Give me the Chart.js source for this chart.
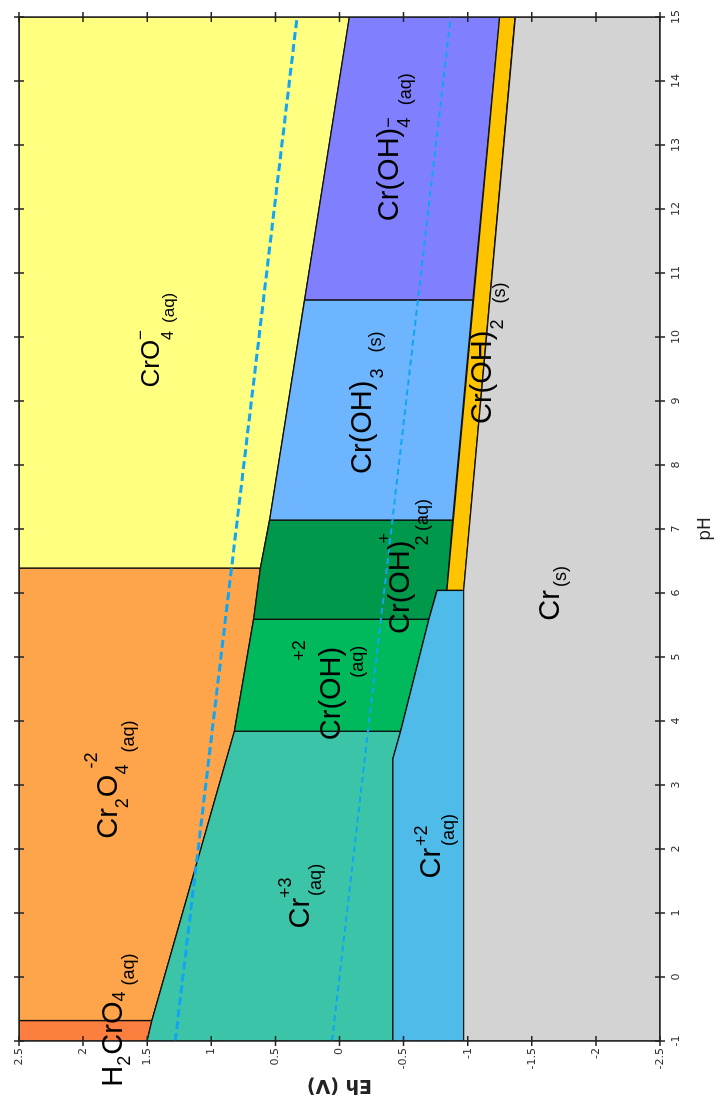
<!DOCTYPE html>
<html lang="es">
<head>
<meta charset="UTF-8">
<title>Diagrama de Pourbaix del cromo</title>
<script src="https://cdn.jsdelivr.net/npm/chart.js@4.4.1/dist/chart.umd.min.js"></script>
<style>
  html, body { margin: 0; padding: 0; background: #fff; overflow: hidden; }
  body { width: 716px; height: 1100px; position: relative; }
  /* La gráfica se dibuja horizontal y luego se gira 90° a la izquierda */
  #contenedor {
    position: absolute; left: 0; top: 0;
    width: 1100px; height: 716px;
    transform-origin: 0 0;
    transform: translateY(1100px) rotate(-90deg);
  }
</style>
</head>
<body>
<div id="contenedor"><canvas id="graficaPourbaix" width="1100" height="716"></canvas></div>
<script>
// 📐 Marcas de los ejes: pH (horizontal) y Eh en voltios (vertical)
const TICKS_PH = [-1, 0, 1, 2, 3, 4, 5, 6, 7, 8, 9, 10, 11, 12, 13, 14, 15];
const TICKS_EH = [-2.5, -2, -1.5, -1, -0.5, 0, 0.5, 1, 1.5, 2, 2.5];

// 🧪 Zonas de estabilidad, vértices [pH, Eh]
const ZONA_H2CRO4 = [[-1, 2.5], [-0.68, 2.5], [-0.68, 1.463], [-1, 1.5]];
const ZONA_CR2O4 = [[-0.68, 2.5], [6.39, 2.5], [6.39, 0.618], [5.59, 0.67], [3.84, 0.82], [-0.68, 1.463]];
const ZONA_CRO4 = [[6.39, 2.5], [15, 2.5], [15, -0.077], [10.58, 0.272], [7.14, 0.545], [6.39, 0.618]];
const ZONA_CR3 = [[-1, 1.5], [-0.68, 1.463], [3.84, 0.82], [3.84, -0.477], [3.41, -0.417], [-1, -0.417]];
const ZONA_CROH = [[3.84, 0.82], [5.59, 0.67], [5.59, -0.698], [3.84, -0.477]];
const ZONA_CROH2_AQ = [[5.59, 0.67], [6.39, 0.618], [7.14, 0.545], [7.14, -0.883], [6.04, -0.838], [6.04, -0.761], [5.59, -0.698]];
const ZONA_CROH3 = [[7.14, 0.545], [10.58, 0.272], [10.58, -1.041], [7.14, -0.883]];
const ZONA_CROH4 = [[10.58, 0.272], [15, -0.077], [15, -1.249], [10.58, -1.041]];
const ZONA_CROH2_S = [[6.04, -0.838], [15, -1.249], [15, -1.371], [6.04, -0.968]];
const ZONA_CR2 = [[-1, -0.417], [3.41, -0.417], [3.84, -0.477], [5.59, -0.698], [6.04, -0.761], [6.04, -0.968], [-1, -0.968]];
const ZONA_CR = [[-1, -0.968], [6.04, -0.968], [15, -1.371], [15, -2.5], [-1, -2.5]];

// 💧 Límites de estabilidad del agua
const AGUA_O2 = [[-1, 1.281], [15, 0.331]];
const AGUA_H2 = [[-1, 0.058], [15, -0.867]];

// Colores de cada zona
const zonas = [
  { vertices: ZONA_CR, color: '#d3d3d3' },
  { vertices: ZONA_CR2, color: '#4fbbe8' },
  { vertices: ZONA_CROH2_S, color: '#ffc400' },
  { vertices: ZONA_CROH4, color: '#8080ff' },
  { vertices: ZONA_CROH3, color: '#6db6ff' },
  { vertices: ZONA_CROH2_AQ, color: '#00984a' },
  { vertices: ZONA_CROH, color: '#00b95c' },
  { vertices: ZONA_CR3, color: '#3cc4a8' },
  { vertices: ZONA_CRO4, color: '#ffff80' },
  { vertices: ZONA_CR2O4, color: '#fea54b' },
  { vertices: ZONA_H2CRO4, color: '#fd7f40' }
];

// 🏷️ Nombres de las especies: ancla [pH, Eh] sobre la línea base.
// Cada trozo: t = texto, s = tamaño, dy = desplazamiento vertical, gap = espacio previo,
// pila = el siguiente trozo empieza en la misma x (sub y superíndice apilados)
const ETIQUETAS = [
  { ph: 9.21, eh: 1.411, partes: [{ t: 'CrO', s: 26 }, { t: '\u2212', s: 17, dy: -13, pila: true }, { t: '4', s: 16, dy: 14 }, { t: '(aq)', s: 17, dy: 15, gap: 7 }] },
  { ph: 11.81, eh: -0.453, partes: [{ t: 'Cr(OH)', s: 29 }, { t: '\u2212', s: 18, dy: -4, pila: true }, { t: '4', s: 18, dy: 12 }, { t: '(aq)', s: 18, dy: 13, gap: 12 }] },
  { ph: 7.86, eh: -0.248, partes: [{ t: 'Cr(OH)', s: 29 }, { t: '3', s: 18, dy: 12, gap: 2 }, { t: '(s)', s: 18, dy: 10, gap: 16 }] },
  { ph: 8.64, eh: -1.184, partes: [{ t: 'Cr(OH)', s: 29 }, { t: '2', s: 18, dy: 12, gap: 1 }, { t: '(s)', s: 18, dy: 14, gap: 16 }] },
  { ph: 5.36, eh: -0.545, partes: [{ t: 'Cr(OH)', s: 29 }, { t: '+', s: 18, dy: -19, gap: -3, pila: true }, { t: '2', s: 18, dy: 19, gap: -2 }, { t: '(aq)', s: 18, dy: 19, gap: 2 }] },
  { ph: 3.70, eh: -0.006, partes: [{ t: 'Cr(OH)', s: 29 }, { t: '+2', s: 18, dy: -35, gap: -14, pila: true }, { t: '(aq)', s: 18, dy: 23, gap: -17 }] },
  { ph: 2.16, eh: 1.733, partes: [{ t: 'Cr', s: 29 }, { t: '2', s: 18, dy: 11 }, { t: 'O', s: 29, gap: 1 }, { t: '4', s: 18, dy: 11, pila: true }, { t: '-2', s: 18, dy: -20, gap: 6 }, { t: '(aq)', s: 18, dy: 17 }] },
  { ph: -1.713, eh: 1.694, partes: [{ t: 'H', s: 29 }, { t: '2', s: 18, dy: 8 }, { t: 'CrO', s: 29, gap: 1 }, { t: '4', s: 18, dy: 3 }, { t: '(aq)', s: 18, dy: 12, gap: 6 }] },
  { ph: 0.758, eh: 0.241, partes: [{ t: 'Cr', s: 29 }, { t: '+3', s: 18, dy: -18, pila: true }, { t: '(aq)', s: 18, dy: 12, gap: 2 }] },
  { ph: 1.538, eh: -0.781, partes: [{ t: 'Cr', s: 29 }, { t: '+2', s: 18, dy: -13, gap: 2, pila: true }, { t: '(aq)', s: 18, dy: 14 }] },
  { ph: 5.568, eh: -1.709, partes: [{ t: 'Cr', s: 29 }, { t: '(s)', s: 18, dy: 7, gap: 3 }] }
];

const aPuntos = lista => lista.map(([ph, eh]) => ({ x: ph, y: eh }));

// Cada zona es un polígono cerrado relleno con fill: 'shape'
const datasetsZonas = zonas.map((z, i) => ({
  data: aPuntos([...z.vertices, z.vertices[0]]),
  backgroundColor: z.color,
  borderColor: '#111',
  borderWidth: 1.3,
  fill: 'shape',
  pointRadius: 0,
  order: 2 + i
}));

const datasetsAgua = [
  { data: aPuntos(AGUA_O2), borderColor: '#12a4f4', borderWidth: 3, borderDash: [8, 4], fill: false, pointRadius: 0, order: 0 },
  { data: aPuntos(AGUA_H2), borderColor: '#12a4f4', borderWidth: 2, borderDash: [6, 4], fill: false, pointRadius: 0, order: 1 }
];

// 🖼️ Marco con marcas que cruzan los cuatro bordes
const pluginMarco = {
  id: 'marco',
  afterDatasetsDraw(chart) {
    const { ctx, chartArea: a, scales: { x, y } } = chart;
    ctx.save();
    ctx.strokeStyle = '#222';
    ctx.lineWidth = 1.5;
    ctx.strokeRect(a.left, a.top, a.right - a.left, a.bottom - a.top);
    ctx.beginPath();
    x.ticks.forEach(t => {
      const px = x.getPixelForValue(t.value);
      ctx.moveTo(px, a.bottom - 5); ctx.lineTo(px, a.bottom + 5);
      ctx.moveTo(px, a.top - 5); ctx.lineTo(px, a.top + 5);
    });
    y.ticks.forEach(t => {
      const py = y.getPixelForValue(t.value);
      ctx.moveTo(a.left - 5, py); ctx.lineTo(a.left + 5, py);
      ctx.moveTo(a.right - 5, py); ctx.lineTo(a.right + 5, py);
    });
    ctx.stroke();
    ctx.restore();
  }
};

// Texto de las especies con subíndices y superíndices
const pluginEtiquetas = {
  id: 'etiquetas',
  afterDraw(chart) {
    const { ctx, scales: { x, y } } = chart;
    ctx.save();
    ctx.fillStyle = '#000';
    ctx.textAlign = 'left';
    ctx.textBaseline = 'alphabetic';
    ETIQUETAS.forEach(et => {
      const x0 = x.getPixelForValue(et.ph);
      const y0 = y.getPixelForValue(et.eh);
      let cursor = 0;
      let finPila = 0;
      et.partes.forEach(p => {
        ctx.font = `${p.s}px "Liberation Sans", Arial, sans-serif`;
        cursor += p.gap || 0;
        ctx.fillText(p.t, x0 + cursor, y0 + (p.dy || 0));
        const fin = cursor + ctx.measureText(p.t).width;
        if (p.pila) {
          finPila = Math.max(finPila, fin);
        } else {
          cursor = Math.max(fin, finPila);
          finPila = 0;
        }
      });
    });
    ctx.restore();
  }
};

Chart.defaults.font.family = '"DejaVu Sans", sans-serif';

const ctx = document.getElementById('graficaPourbaix').getContext('2d');
const miGrafica = new Chart(ctx, {
  type: 'line',
  data: { datasets: [...datasetsAgua, ...datasetsZonas] },
  options: {
    responsive: false,
    animation: false,
    layout: { padding: { top: 19, right: 15, left: 0, bottom: 0 } },
    plugins: {
      legend: { display: false },
      tooltip: { enabled: false }
    },
    elements: { line: { tension: 0 } },
    scales: {
      x: {
        type: 'linear',
        min: -1,
        max: 15,
        afterBuildTicks: escala => { escala.ticks = TICKS_PH.map(v => ({ value: v })); },
        afterFit: escala => { escala.height = 56; },
        grid: { display: false, drawTicks: false },
        border: { display: false },
        ticks: { autoSkip: false, maxRotation: 0, padding: 10, color: '#333', font: { size: 11 }, callback: v => String(v) },
        title: { display: true, text: 'pH', color: '#222', font: { size: 17 }, padding: { top: 0, bottom: 0 } }
      },
      y: {
        type: 'linear',
        min: -2.5,
        max: 2.5,
        afterBuildTicks: escala => { escala.ticks = TICKS_EH.map(v => ({ value: v })); },
        afterFit: escala => { escala.width = 59; },
        grid: { display: false, drawTicks: false },
        border: { display: false },
        ticks: { autoSkip: false, padding: 7, color: '#333', font: { size: 11 }, callback: v => String(v) },
        title: { display: true, text: 'Eh (V)', color: '#222', font: { size: 19, weight: 'bold' }, padding: { top: 4, bottom: 0 } }
      }
    }
  },
  plugins: [pluginMarco, pluginEtiquetas]
});
</script>
</body>
</html>
